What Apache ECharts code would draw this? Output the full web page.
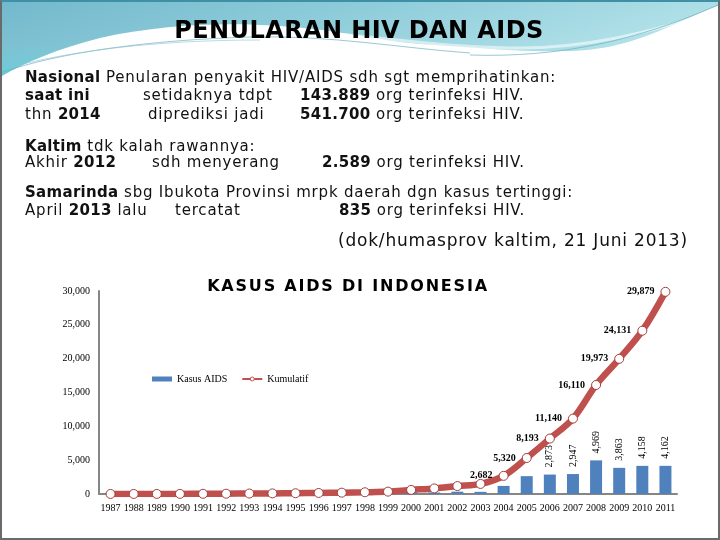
<!DOCTYPE html>
<html>
<head>
<meta charset="utf-8">
<script src="https://cdn.jsdelivr.net/npm/echarts@6/dist/echarts.min.js"></script>
<style>
  body { margin:0; background:#fff; }
  #wrap { position:relative; width:720px; height:540px; overflow:hidden; background:#fff; }
  #deco { position:absolute; left:0; top:0; }
  #chart { position:absolute; left:0; top:0; width:720px; height:540px; }
  .t { position:absolute; font-family:"DejaVu Sans", Verdana, sans-serif; font-size:15px; line-height:16px; color:#111; white-space:nowrap; letter-spacing:0.8px; }
  .b { font-weight:bold; letter-spacing:0.3px; }
  #frame { position:absolute; left:0; top:0; width:716px; height:536px; border:2px solid #6a6a6a; border-top-color:#3f8fa5; pointer-events:none; }
  #ttl { position:absolute; top:16px; left:0; width:718px; text-align:center; font-family:"DejaVu Sans", sans-serif; font-weight:bold; font-size:24px; letter-spacing:0.4px; color:#000; }
  #ctl { position:absolute; top:276px; left:148px; width:400px; text-align:center; font-family:"DejaVu Sans", sans-serif; font-weight:bold; font-size:16px; letter-spacing:1.8px; color:#000; }
</style>
</head>
<body>
<div id="wrap">
  <svg id="deco" width="720" height="100" viewBox="0 0 720 100">
    <defs>
      <linearGradient id="gb" x1="0" y1="0" x2="1" y2="0.35">
        <stop offset="0" stop-color="#72b8cc"/>
        <stop offset="0.45" stop-color="#8ccbd9"/>
        <stop offset="1" stop-color="#b4e3ea"/>
      </linearGradient>
      <linearGradient id="gc" x1="0" y1="0" x2="0" y2="1">
        <stop offset="0" stop-color="#7ec6d5" stop-opacity="0"/>
        <stop offset="1" stop-color="#5fcfdc" stop-opacity="0.9"/>
      </linearGradient>
    </defs>
    <path d="M0,0 H720 V5 C700,12 692,17 680,22 C640,40 610,50 570,51 C520,52 480,48 420,44 C380,41 340,30 280,26 C220,22 160,25 100,38 C60,48 25,62 0,77 Z" fill="url(#gb)"/>
    <path d="M0,40 C30,45 60,45 100,38 C60,48 25,62 0,77 Z" fill="url(#gc)"/>
    <path d="M300,31 C380,36 440,48 520,48 C580,48 640,36 720,10" fill="none" stroke="#ffffff" stroke-opacity="0.55" stroke-width="3"/>
    <path d="M0,73 C60,52 150,40 250,37 C330,35 400,48 470,53" fill="none" stroke="#6fb0c0" stroke-opacity="0.7" stroke-width="1"/>
    <path d="M0,70 C70,50 160,40 260,40" fill="none" stroke="#8cc3cf" stroke-opacity="0.6" stroke-width="1"/>
    <path d="M470,55 C560,58 640,40 720,4" fill="none" stroke="#6fb0c0" stroke-opacity="0.7" stroke-width="1"/>
  </svg>
  <div id="chart"></div>
  <div id="ttl">PENULARAN HIV DAN AIDS</div>
  <div class="t" style="left:25px;top:69px"><span class="b">Nasional</span> Penularan penyakit HIV/AIDS sdh sgt memprihatinkan:</div>
  <div class="t b" style="left:25px;top:87px">saat ini</div>
  <div class="t" style="left:143px;top:87px">setidaknya tdpt</div>
  <div class="t" style="left:300px;top:87px"><span class="b">143.889</span> org terinfeksi HIV.</div>
  <div class="t" style="left:25px;top:106px">thn <span class="b">2014</span></div>
  <div class="t" style="left:148px;top:106px">diprediksi jadi</div>
  <div class="t" style="left:300px;top:106px"><span class="b">541.700</span> org terinfeksi HIV.</div>
  <div class="t" style="left:25px;top:138px"><span class="b">Kaltim</span> tdk kalah rawannya:</div>
  <div class="t" style="left:25px;top:154px">Akhir <span class="b">2012</span></div>
  <div class="t" style="left:152px;top:154px">sdh menyerang</div>
  <div class="t" style="left:322px;top:154px"><span class="b">2.589</span> org terinfeksi HIV.</div>
  <div class="t" style="left:25px;top:184px"><span class="b">Samarinda</span> sbg Ibukota Provinsi mrpk daerah dgn kasus tertinggi:</div>
  <div class="t" style="left:25px;top:202px">April <span class="b">2013</span> lalu</div>
  <div class="t" style="left:175px;top:202px">tercatat</div>
  <div class="t" style="left:339px;top:202px"><span class="b">835</span> org terinfeksi HIV.</div>
  <div class="t" style="left:338px;top:230px;font-size:17px;line-height:20px">(dok/humasprov kaltim, 21 Juni 2013)</div>
  <div id="ctl">KASUS AIDS DI INDONESIA</div>
  <div id="frame"></div>
</div>
<script>
var years = ['1987','1988','1989','1990','1991','1992','1993','1994','1995','1996','1997','1998','1999','2000','2001','2002','2003','2004','2005','2006','2007','2008','2009','2010','2011'];
var newCases = [5,2,5,5,15,13,24,20,23,42,44,60,94,255,219,345,316,1195,2638,2873,2947,4969,3863,4158,4162];
var cumulative = [5,7,12,17,32,45,69,89,112,154,198,258,352,607,826,1171,1487,2682,5320,8193,11140,16110,19973,24131,29879];
var lineLabelYears = ['2004','2005','2006','2007','2008','2009','2010','2011'];
var barLabelYears = ['2006','2007','2008','2009','2010','2011'];

function fmt(v){ return Number(v).toLocaleString('en-US'); }
var serif = '"Liberation Serif","DejaVu Serif",serif';

var chart = echarts.init(document.getElementById('chart'));
chart.setOption({
  animation:false,
  backgroundColor:'transparent',
  legend:{ left:147, top:369, itemWidth:20, itemHeight:5, itemGap:14,
    textStyle:{ fontFamily:serif, fontSize:10, color:'#000' },
    data:[ {name:'Kasus AIDS', icon:'rect', itemStyle:{color:'#4f81bd'}},
           {name:'Kumulatif', itemStyle:{color:'#fff', borderColor:'#c0504d', borderWidth:1}, lineStyle:{width:2, color:'#c0504d'}} ] },
  grid:{ left:99, right:43, top:291, bottom:46 },
  xAxis:{ type:'category', data:years,
    axisLine:{ lineStyle:{ color:'#868686', width:2 } }, axisTick:{ show:false },
    axisLabel:{ interval:0, fontFamily:serif, fontSize:10, color:'#000', margin:9 } },
  yAxis:{ type:'value', min:0, max:30000, interval:5000,
    axisLine:{ show:true, lineStyle:{ color:'#868686', width:2 } }, axisTick:{ show:false },
    splitLine:{ show:false },
    axisLabel:{ fontFamily:serif, fontSize:10, color:'#000', margin:9, formatter:function(v){ return fmt(v); } } },
  series:[
    { name:'Kasus AIDS', type:'bar', barWidth:12, itemStyle:{ color:'#4f81bd' },
      data: newCases.map(function(v,i){ return { value:v, label:{ show: barLabelYears.indexOf(years[i])>=0 } }; }),
      label:{ position:'top', rotate:90, align:'left', verticalAlign:'middle', distance:7,
        fontFamily:serif, fontSize:10, color:'#000', formatter:function(p){ return fmt(p.value); } } },
    { name:'Kumulatif', type:'line', smooth:0.35, symbol:'circle', symbolSize:9,
      lineStyle:{ color:'#c0504d', width:6.5 },
      itemStyle:{ color:'#fff', borderColor:'#a43e3b', borderWidth:1 },
      data: cumulative.map(function(v,i){ return { value:v, label:{ show: lineLabelYears.indexOf(years[i])>=0 } }; }),
      label:{ position:'left', distance:6, fontFamily:serif, fontSize:10, fontWeight:'bold', color:'#000',
        formatter:function(p){ return fmt(p.value); } } }
  ]
});
</script>
</body>
</html>
